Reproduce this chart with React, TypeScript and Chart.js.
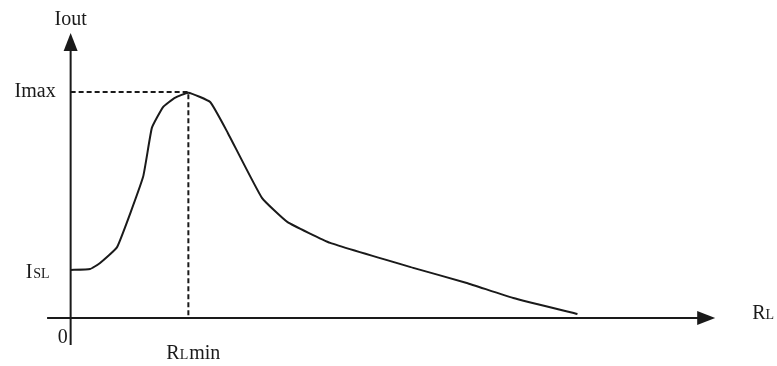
import React, { useEffect, useRef } from "react";
import { Chart, registerables } from "chart.js";

Chart.register(...registerables);

// Curve: load resistance RL (x) vs output current Iout (y), arbitrary units
const curveX = [0, 0.33, 0.5, 0.79, 1.23, 1.38, 1.57, 1.77, 2.0, 2.37, 2.67, 3.25, 3.68, 4.41, 5.82, 6.73, 7.52, 8.61];
const curveY = [2.1, 2.14, 2.4, 3.1, 6.16, 8.31, 9.22, 9.62, 9.85, 9.44, 8.09, 5.25, 4.2, 3.28, 2.19, 1.53, 0.87, 0.17];

// Marked values
const RLmin = 2.0;
const Imax = 9.88;
const ISL = 2.1;

// Axis extents
const xAxisRange = [-0.4, 10.95];
const yAxisRange = [-1.18, 12.46];
const viewX = [-1.2, 12];
const viewY = [-2.1, 13.9];

const INK = "#1a1a1a";
const FONT = '"Liberation Serif", "DejaVu Serif", serif';

const decorPlugin = {
  id: "decor",
  afterDraw(chart: any) {
    const ctx = chart.ctx as CanvasRenderingContext2D;
    const xs = chart.scales.x;
    const ys = chart.scales.y;
    const px = (v: number) => xs.getPixelForValue(v);
    const py = (v: number) => ys.getPixelForValue(v);
    ctx.save();
    ctx.fillStyle = INK;
    // y arrow
    const yx = px(0), yt = py(yAxisRange[1]);
    ctx.beginPath();
    ctx.moveTo(yx, yt);
    ctx.lineTo(yx - 7, yt + 18);
    ctx.lineTo(yx + 7, yt + 18);
    ctx.closePath();
    ctx.fill();
    // x arrow
    const xt = px(xAxisRange[1]), xy = py(0);
    ctx.beginPath();
    ctx.moveTo(xt, xy);
    ctx.lineTo(xt - 18, xy - 7);
    ctx.lineTo(xt - 18, xy + 7);
    ctx.closePath();
    ctx.fill();

    ctx.textBaseline = "alphabetic";
    const big = `20px ${FONT}`;
    const small = `14px ${FONT}`;
    // Iout
    ctx.font = big;
    ctx.textAlign = "center";
    ctx.fillText("Iout", yx, yt - 8);
    // Imax
    ctx.textAlign = "right";
    ctx.fillText("Imax", yx - 15, py(Imax) + 5);
    // 0
    ctx.fillText("0", yx - 3, xy + 25);
    // ISL
    ctx.textAlign = "left";
    ctx.font = small;
    const slW = ctx.measureText("SL").width;
    ctx.font = big;
    const iW = ctx.measureText("I").width;
    const islRight = yx - 21;
    const islBase = py(ISL) + 8;
    ctx.fillText("I", islRight - slW - iW - 1, islBase);
    ctx.font = small;
    ctx.fillText("SL", islRight - slW, islBase);
    // RLmin
    const rlx = px(RLmin) - 22;
    const rlBase = xy + 41;
    ctx.font = big;
    ctx.fillText("R", rlx, rlBase);
    let w = ctx.measureText("R").width;
    ctx.font = small;
    ctx.fillText("L", rlx + w, rlBase);
    w += ctx.measureText("L").width;
    ctx.font = big;
    ctx.fillText("min", rlx + w + 1, rlBase);
    // RL
    const rx = xt + 37;
    ctx.font = big;
    ctx.fillText("R", rx, xy + 1);
    const rw = ctx.measureText("R").width;
    ctx.font = small;
    ctx.fillText("L", rx + rw, xy + 1);
    ctx.restore();
  },
};

export default function App() {
  const ref = useRef<HTMLCanvasElement | null>(null);
  useEffect(() => {
    if (!ref.current) return;
    const curve = curveX.map((x, i) => ({ x, y: curveY[i] }));
    const chart = new Chart(ref.current, {
      type: "line",
      data: {
        datasets: [
          {
            data: [
              { x: xAxisRange[0], y: 0 },
              { x: xAxisRange[1] - 10 / 58.86, y: 0 },
            ],
            borderColor: INK,
            borderWidth: 2,
            pointRadius: 0,
          },
          {
            data: [
              { x: 0, y: yAxisRange[0] },
              { x: 0, y: yAxisRange[1] - 0.4 },
            ],
            borderColor: INK,
            borderWidth: 2,
            pointRadius: 0,
          },
          {
            data: [
              { x: 0, y: Imax },
              { x: RLmin, y: Imax },
              { x: RLmin, y: 0 },
            ],
            borderColor: INK,
            borderWidth: 2,
            borderDash: [5, 3],
            pointRadius: 0,
          },
          {
            data: curve,
            borderColor: INK,
            borderWidth: 2,
            pointRadius: 0,
            tension: 0.12,
          },
        ],
      },
      options: {
        animation: false,
        responsive: false,
        events: [],
        layout: { padding: 0 },
        plugins: { legend: { display: false }, tooltip: { enabled: false } },
        scales: {
          x: { type: "linear", display: false, min: viewX[0], max: viewX[1] },
          y: { type: "linear", display: false, min: viewY[0], max: viewY[1] },
        },
      },
      plugins: [decorPlugin],
    });
    return () => chart.destroy();
  }, []);
  return (
    <div style={{ position: "fixed", left: 0, top: 0, width: 777, height: 366, background: "#fff" }}>
      <canvas ref={ref} width={777} height={366} />
    </div>
  );
}
